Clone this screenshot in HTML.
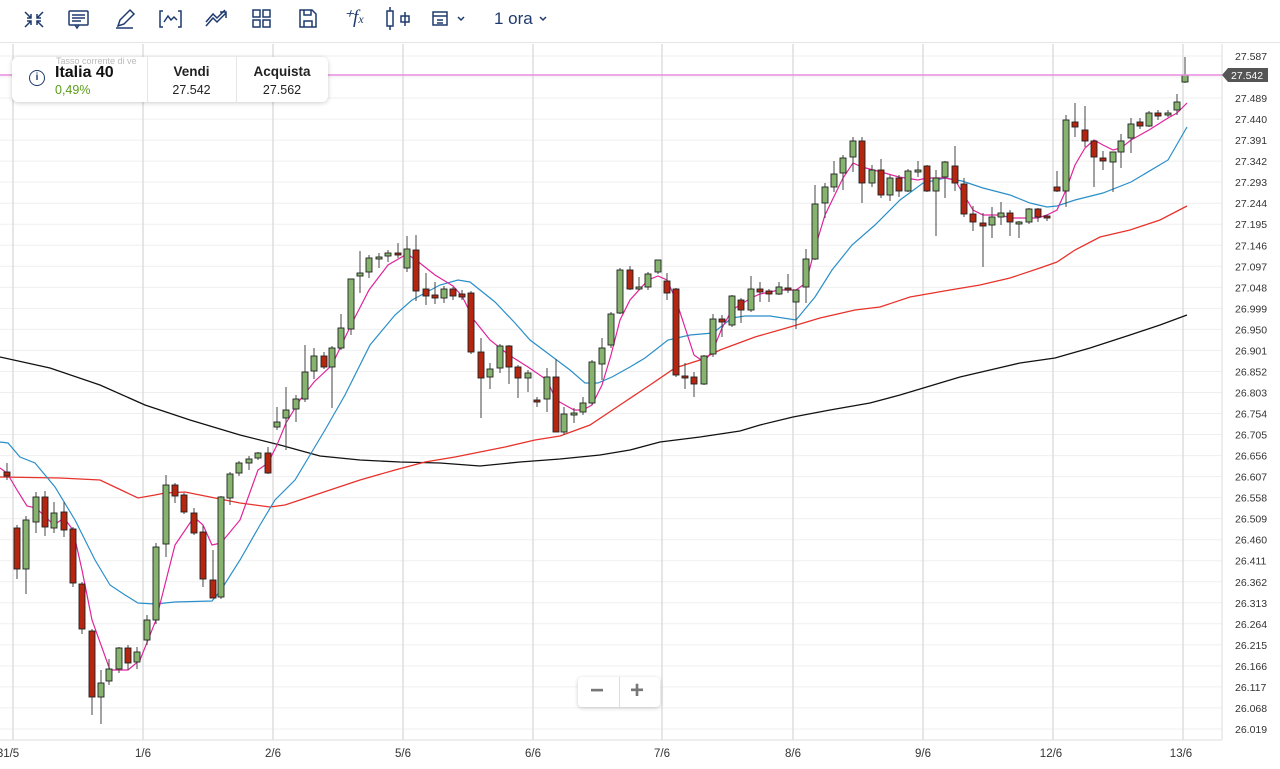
<!DOCTYPE html>
<html><head><meta charset="utf-8"><style>
body{margin:0;width:1280px;height:769px;overflow:hidden;background:#fff;font-family:"Liberation Sans",sans-serif;}
#tb{position:absolute;left:0;top:0;width:1280px;height:42px;border-bottom:1px solid #e4e4e4;background:#fff}
#info{position:absolute;left:12px;top:57px;width:316px;height:45px;background:#fff;border-radius:6px;box-shadow:0 1px 5px rgba(0,0,0,.2);font-size:12.5px;color:#222}
#info div{position:absolute}
</style></head><body>
<svg id="c" width="1280" height="769" style="position:absolute;left:0;top:0"></svg>
<div id="tb">
<svg width="1280" height="42" style="position:absolute;left:0;top:0" fill="none" stroke="#1e3a6e" stroke-width="1.5">
<path d="M25 12l6 6M31 14v4h-4M43 12l-6 6M37 14v4h4M25 27l6-6M27 21h4v4M43 27l-6-6M37 25v-4h4"/>
<rect x="69" y="11" width="19" height="14" rx="1"/><path d="M72 15h13M72 18h13M72 21h9M79 25l-2 3-2-3"/>
<path d="M116 28h17M118 26l2-6 10-10 4 4-10 10z"/>
<path d="M163 11h-3v16h3M178 11h3v16h-3M164 22l4-6 3 4 3-3 3 3"/>
<path d="M206 26l7-8 4 4 9-9M220 12h6v6M206 22l7-8 4 4 8-8"/>
<rect x="253" y="10" width="7" height="7"/><rect x="263" y="10" width="7" height="7"/><rect x="253" y="20" width="7" height="7"/><rect x="263" y="20" width="7" height="7"/>
<path d="M300 10h12l4 4v13h-16zM304 10v5h7v-5M304 27v-6h8v6"/>
<rect x="387" y="11" width="6" height="15"/><path d="M390 7v4M390 26v4M405 12v14M401 16h8v6h-8z"/>
<rect x="433" y="12" width="14" height="13"/><path d="M433 16h14M437 20h6M437 23h6M458 17l3 3 3-3M540 17l3 3 3-3"/>
</svg>
<div style="position:absolute;left:343px;top:6px;font:italic 19px 'Liberation Serif',serif;color:#1e3a6e">⁺<i>f</i><span style="font-size:12px">x</span></div>
<div style="position:absolute;left:494px;top:9px;font-size:17px;color:#1e3a6e">1 ora</div>
</div>
<div id="info">
<div style="left:44px;top:-1px;font-size:9px;color:#bbb">Tasso corrente di ve</div>
<div style="left:17px;top:13px;width:14px;height:14px;border:1.5px solid #1e3a6e;border-radius:50%;font-size:10px;text-align:center;line-height:14px;color:#1e3a6e;font-weight:bold">i</div>
<div style="left:43px;top:7px;font-size:16px;font-weight:bold;color:#111">Italia 40</div>
<div style="left:43px;top:26px;color:#5a9b1a">0,49%</div>
<div style="left:135px;top:0;width:1px;height:45px;background:#e6e6e6"></div>
<div style="left:224px;top:0;width:1px;height:45px;background:#e6e6e6"></div>
<div style="left:135px;width:89px;top:7px;text-align:center;font-weight:bold;font-size:13.5px">Vendi</div>
<div style="left:135px;width:89px;top:26px;text-align:center">27.542</div>
<div style="left:224px;width:92px;top:7px;text-align:center;font-weight:bold;font-size:13.5px">Acquista</div>
<div style="left:224px;width:92px;top:26px;text-align:center">27.562</div>
</div>
<div style="position:absolute;left:578px;top:677px;width:82px;height:30px;background:#fff;border-radius:4px;box-shadow:0 1px 4px rgba(0,0,0,.2);font-size:24px;color:#777;font-weight:bold">
<span style="position:absolute;left:12px;top:0">−</span><span style="position:absolute;left:41px;top:0;width:1px;height:30px;background:#ddd"></span><span style="position:absolute;left:52px;top:0">+</span></div>
<script>
var s='',svg=document.getElementById('c');
for(var i=0;i<33;i++){var y=56+i*21.03;s+='<line x1="0" x2="1222" y1="'+y+'" y2="'+y+'" stroke="#efefef"/>';
s+='<text x="1235" y="'+(y+4)+'" font-size="10.5" fill="#333" font-family="Liberation Sans">'+(27.587-i*0.049).toFixed(3)+'</text>';}
var xs=[[13,'31/5',8],[143,'1/6',143],[273,'2/6',273],[403,'5/6',403],[533,'6/6',533],[662,'7/6',662],[793,'8/6',793],[923,'9/6',923],[1053,'12/6',1051],[1183,'13/6',1181]];
xs.forEach(function(a){s+='<line x1="'+a[0]+'" x2="'+a[0]+'" y1="44" y2="740" stroke="#dddddd" stroke-width="1.5"/>';
s+='<text x="'+a[2]+'" y="757" font-size="11.5" fill="#333" text-anchor="middle" font-family="Liberation Sans">'+a[1]+'</text>';});
s+='<line x1="1222" x2="1222" y1="44" y2="740" stroke="#ddd"/><line x1="0" x2="1222" y1="740" y2="740" stroke="#ddd"/>';
function pl(p,c,w){s+='<polyline fill="none" stroke="'+c+'" stroke-width="'+w+'" points="'+p+'"/>';}
pl("0,357 50,368 100,385 145,405 190,420 240,435 280,445 320,456 360,460 400,462 440,463 480,466 520,462 560,459 600,455 630,450 660,442 700,437 740,431 760,425 793,417 830,410 870,403 900,395 930,386 960,377 990,370 1020,363 1055,358 1090,348 1130,335 1160,325 1187,315","#111",1.3);
pl("0,477 60,478 100,480 138,498 155,495 165,493 185,492 210,497 240,503 270,507 285,505 300,500 330,490 360,480 395,470 425,462 455,457 480,452 505,447 535,440 560,436 590,425 620,405 650,385 675,368 700,360 720,350 755,337 790,327 820,318 855,310 880,307 910,297 950,290 980,285 1010,278 1040,268 1057,262 1075,250 1100,237 1130,230 1160,220 1187,206","#e8322b",1.3);
pl("0,442 8,443 20,457 35,463 55,487 75,520 95,560 110,585 125,595 138,603 155,604 175,602 212,601 221,590 240,560 260,525 275,500 295,480 325,430 345,395 370,345 395,315 412,300 440,285 458,280 470,282 495,302 515,323 530,340 550,355 570,370 585,383 598,383 612,377 630,367 645,358 668,340 690,335 713,333 732,318 745,316 770,316 796,320 815,297 832,270 852,245 875,225 900,200 923,183 945,178 962,181 983,188 1010,195 1030,203 1047,207 1057,206 1075,200 1103,193 1131,182 1168,160 1187,127","#2a8fc9",1.2);
pl("0,468 7,473 17,490 27,506 36,508 54,525 64,518 73,530 82,570 92,620 110,670 128,670 140,660 156,620 175,545 194,517 203,525 212,545 221,543 240,520 258,470 268,463 277,445 286,423 300,400 314,382 332,365 351,325 369,290 388,265 407,254 416,260 435,275 453,286 462,296 474,320 490,340 509,355 528,367 547,380 556,400 574,410 583,410 592,405 602,385 611,355 620,320 630,300 648,280 658,276 667,280 676,300 694,355 704,362 713,350 722,328 732,310 751,298 760,294 779,290 796,290 806,283 815,248 825,215 843,178 853,163 862,167 881,172 899,177 918,180 927,178 945,178 955,180 964,195 973,210 983,215 1001,215 1010,218 1029,218 1038,218 1047,215 1057,210 1066,190 1075,165 1085,148 1094,140 1103,145 1113,150 1121,148 1131,140 1149,130 1168,118 1177,113 1187,103","#e0249a",1.2);
var C=[[7,'r',472,476,463,480],[17,'r',528,569,525,579],[26,'g',520,569,516,594],[36,'g',497,522,492,533],[45,'r',497,527,491,536],[54,'g',513,528,502,533],[64,'r',512,530,502,537],[73,'r',529,583,527,587],[82,'r',584,629,582,634],[92,'r',631,697,629,715],[101,'g',683,697,670,724],[109,'g',669,681,659,685],[119,'g',648,669,647,673],[128,'r',648,663,645,670],[137,'g',652,662,647,669],[147,'g',620,640,615,645],[156,'g',547,620,543,624],[166,'g',485,544,475,557],[175,'r',485,496,483,503],[184,'r',495,512,493,514],[194,'r',513,533,508,535],[203,'r',532,579,526,587],[213,'r',580,598,550,598],[221,'g',497,597,496,599],[230,'g',474,498,472,505],[239,'g',463,473,461,476],[249,'g',459,463,456,470],[258,'g',453,458,452,460],[268,'r',453,473,447,474],[277,'g',422,427,407,430],[286,'g',410,418,387,450],[296,'g',399,409,395,422],[305,'g',372,399,345,402],[314,'g',356,371,348,379],[324,'r',356,367,352,369],[332,'g',348,367,346,408],[341,'g',328,348,314,350],[351,'g',279,329,279,335],[360,'g',273,276,251,293],[369,'g',258,272,255,278],[379,'g',257,259,253,268],[388,'g',253,256,250,262],[398,'r',253,255,243,258],[407,'g',249,268,236,272],[416,'r',250,291,235,301],[426,'r',289,296,273,305],[435,'r',295,298,282,304],[444,'g',289,298,286,303],[453,'r',289,296,287,300],[462,'r',294,297,290,300],[471,'r',293,352,291,354],[481,'r',352,378,338,418],[490,'g',369,377,363,389],[500,'g',346,368,344,373],[509,'r',346,367,345,384],[518,'r',367,378,365,398],[528,'g',373,378,370,392],[537,'r',400,402,397,407],[547,'g',377,399,368,412],[556,'r',377,432,359,432],[564,'g',414,432,407,435],[574,'g',413,414,408,423],[583,'g',403,412,397,415],[592,'g',362,403,360,405],[602,'g',348,364,338,380],[611,'g',314,345,312,348],[620,'g',270,313,268,314],[630,'r',270,289,266,290],[639,'g',287,289,277,290],[648,'g',274,287,272,290],[658,'g',260,272,260,274],[667,'r',281,293,273,300],[676,'r',289,375,288,377],[685,'r',376,378,363,389],[694,'r',377,384,372,397],[704,'g',356,384,355,385],[713,'g',319,354,314,357],[722,'r',319,322,315,337],[732,'g',296,325,295,327],[741,'r',300,310,298,323],[751,'g',289,310,276,312],[760,'r',289,292,282,302],[769,'r',291,294,289,302],[779,'g',287,294,282,295],[788,'r',288,290,274,293],[796,'g',290,302,290,329],[806,'g',259,287,249,303],[815,'g',204,259,185,260],[825,'g',187,203,183,218],[834,'g',174,187,161,192],[843,'g',158,173,155,190],[853,'g',141,157,137,172],[862,'r',141,183,137,203],[872,'g',170,183,165,187],[881,'r',170,195,159,198],[890,'g',178,195,175,201],[899,'r',178,191,175,197],[908,'g',171,191,169,192],[918,'g',170,172,161,177],[927,'r',166,191,165,192],[936,'g',178,191,170,236],[945,'g',162,177,161,198],[955,'r',166,183,146,191],[964,'r',184,214,178,217],[973,'r',214,222,206,231],[983,'r',223,226,213,267],[992,'g',217,225,207,238],[1001,'g',213,217,202,225],[1010,'r',213,222,210,236],[1019,'g',222,224,221,238],[1029,'g',209,222,208,224],[1038,'r',209,217,208,222],[1047,'r',216,218,215,221],[1057,'r',187,191,171,192],[1066,'g',120,191,115,207],[1075,'r',122,127,103,137],[1085,'r',130,141,106,147],[1094,'r',141,157,141,187],[1103,'r',158,161,151,170],[1113,'g',152,162,152,192],[1121,'g',141,152,134,168],[1131,'g',124,138,118,153],[1140,'r',122,126,118,129],[1149,'g',113,126,111,127],[1158,'r',113,116,110,120],[1168,'g',113,115,110,117],[1177,'g',102,110,94,115],[1185,'g',75,82,57,83]];
C.forEach(function(c){s+='<line x1="'+c[0]+'" x2="'+c[0]+'" y1="'+c[4]+'" y2="'+c[5]+'" stroke="#444" stroke-width="1"/>';
var h=Math.max(c[3]-c[2],2);s+='<rect x="'+(c[0]-3)+'" y="'+c[2]+'" width="6" height="'+h+'" fill="'+(c[1]=='g'?'#86b36e':'#b5250f')+'" stroke="#222" stroke-width="0.9"/>';});
s+='<line x1="0" x2="1222" y1="75" y2="75" stroke="#e88be0" stroke-width="1.5"/>';
s+='<path d="M1222 75 L1228 68 H1268 V82 H1228 Z" fill="#555"/><text x="1231" y="79" font-size="10.5" fill="#fff" font-family="Liberation Sans">27.542</text>';
svg.innerHTML=s;
</script>
</body></html>
